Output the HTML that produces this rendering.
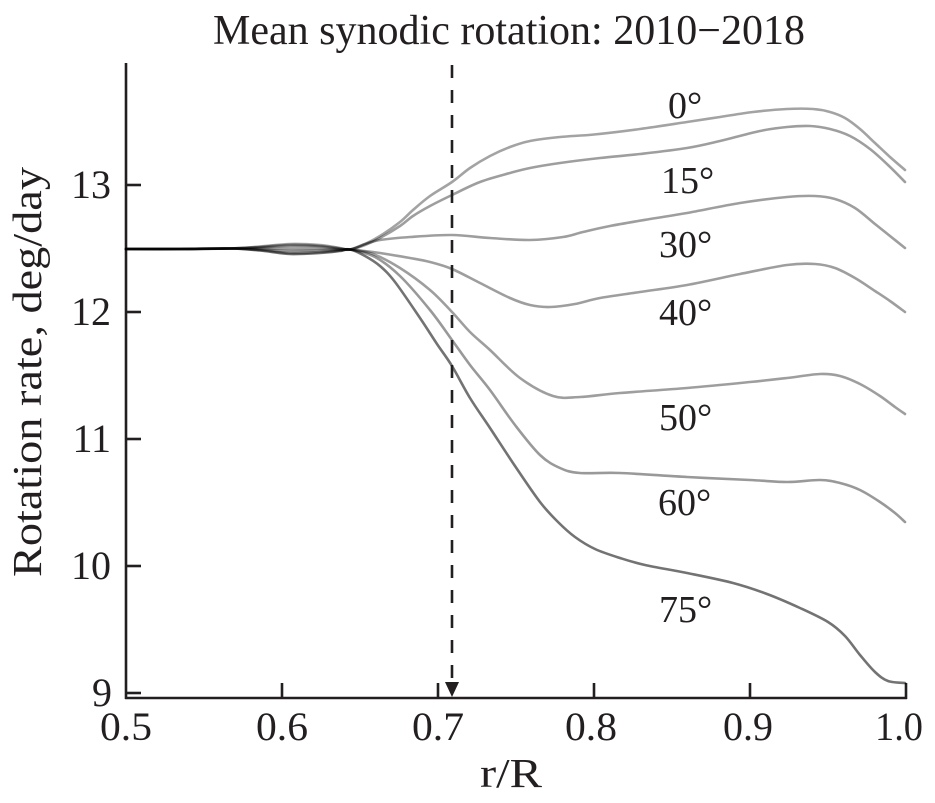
<!DOCTYPE html>
<html>
<head>
<meta charset="utf-8">
<style>
  html,body{margin:0;padding:0;background:#fff;}
  svg{display:block;}
  text{font-family:"Liberation Serif","DejaVu Serif",serif;fill:#231f20;}
</style>
</head>
<body>
<svg id="chart" width="935" height="803" viewBox="0 0 935 803" xmlns="http://www.w3.org/2000/svg">
  <rect x="0" y="0" width="935" height="803" fill="#fff"/>

  <!-- Title -->
  <text x="213" y="44" font-size="42" textLength="592" lengthAdjust="spacingAndGlyphs">Mean synodic rotation: 2010−2018</text>

  <!-- Y label -->
  <text transform="translate(41,577) rotate(-90)" x="0" y="0" font-size="41" textLength="410" lengthAdjust="spacingAndGlyphs">Rotation rate, deg/day</text>

  <!-- X label -->
  <text x="480" y="787" font-size="41" textLength="62" lengthAdjust="spacingAndGlyphs">r/R</text>

  <!-- Axes -->
  <g stroke="#231f20" stroke-width="2.6" fill="none">
    <line x1="126" y1="63" x2="126" y2="699"/>
    <line x1="125" y1="698" x2="907" y2="698"/>
    <line x1="126" y1="185" x2="141" y2="185"/>
    <line x1="126" y1="312" x2="141" y2="312"/>
    <line x1="126" y1="439" x2="141" y2="439"/>
    <line x1="126" y1="566" x2="141" y2="566"/>
    <line x1="126" y1="693" x2="141" y2="693"/>
    <line x1="282" y1="698" x2="282" y2="683"/>
    <line x1="438" y1="698" x2="438" y2="683"/>
    <line x1="594" y1="698" x2="594" y2="683"/>
    <line x1="750" y1="698" x2="750" y2="683"/>
    <line x1="906" y1="699" x2="906" y2="683"/>
  </g>

  <!-- Y tick labels -->
  <g font-size="40" text-anchor="end">
    <text x="111" y="198">13</text>
    <text x="111" y="325">12</text>
    <text x="111" y="452">11</text>
    <text x="111" y="579">10</text>
    <text x="112" y="706">9</text>
  </g>

  <!-- X tick labels -->
  <g font-size="40">
    <text x="100" y="740" textLength="52" lengthAdjust="spacingAndGlyphs">0.5</text>
    <text x="256" y="740" textLength="52" lengthAdjust="spacingAndGlyphs">0.6</text>
    <text x="412" y="740" textLength="52" lengthAdjust="spacingAndGlyphs">0.7</text>
    <text x="565" y="740" textLength="52" lengthAdjust="spacingAndGlyphs">0.8</text>
    <text x="723" y="740" textLength="50" lengthAdjust="spacingAndGlyphs">0.9</text>
    <text x="875" y="740" textLength="48" lengthAdjust="spacingAndGlyphs">1.0</text>
  </g>

  <!-- Curves -->
  <g id="curves" fill="none" stroke-width="2.6" stroke-linejoin="round" stroke-linecap="round">
    <polyline class="c" stroke="rgba(0,0,0,0.36)" points="126,249 180,249 230,248.5 260,246.5 290,244 320,245 340,248 350,249.5 365,244 380,236 400,222 413,210 430,196 452,182 470,168 490,156 510,147 530,141 560,137 594,134.5 640,129 687,122 720,117 753,112 787,109 813,109 830,112 845,118 860,129 875,143 890,157 905,170"/>
    <polyline class="c" stroke="rgba(0,0,0,0.38)" points="126,249 180,249 230,248.5 260,247 290,245 320,246 340,248.5 350,249.5 365,245 380,238 400,226 413,216 430,206 452,195 480,182 510,173 530,168 560,163 600,158 640,154 687,148 720,141 760,131 787,127 810,126 830,129 850,136 870,149 888,165 905,182"/>
    <polyline class="c" stroke="rgba(0,0,0,0.38)" points="126,249 180,249 230,248.5 260,247.5 290,246.5 320,247 340,249 350,249.5 365,244 380,240 410,237 452,235 490,238 530,240 563,237 583,232 610,226 650,219 687,213 740,203 787,197 815,196 835,199 855,208 875,224 890,236 905,248"/>
    <polyline class="c" stroke="rgba(0,0,0,0.38)" points="126,249 180,249 230,248.5 260,248.5 290,249 320,249 340,249.5 350,249.5 380,253 410,258 430,262 452,269 480,283 510,298 530,305 550,307 575,304 600,298 640,292 687,285 740,274 787,265 815,264 835,268 855,278 875,291 890,301 905,312"/>
    <polyline class="c" stroke="rgba(0,0,0,0.38)" points="126,249 180,249 230,248.5 260,249.5 290,251 320,250.5 340,250 350,249.5 373,254 400,268 430,290 452,312 470,332 490,350 520,378 553,396 580,397 620,393 687,388 750,382 787,378 820,374 840,376 860,384 880,396 895,407 905,414"/>
    <polyline class="c" stroke="rgba(0,0,0,0.4)" points="126,249 180,249 230,248.5 260,250 290,253 320,252 340,250.5 350,249.5 375,257 400,276 430,310 452,340 470,365 490,390 515,425 540,455 560,468 580,473 620,473 687,477 750,480 787,482 820,480 840,483 860,490 880,502 895,513 905,522"/>
    <polyline class="c" stroke="rgba(0,0,0,0.55)" points="126,249 180,249 230,248.5 260,250.5 290,254 320,253 340,251 350,249.5 365,256 380,266 395,282 420,318 437,344 452,366 470,398 490,428 515,466 540,502 558,522 575,537 595,549 620,558 645,565 687,573 733,583 767,594 800,608 828,622 845,636 860,655 875,672 888,681 905,683"/>
  </g>

  <!-- Dashed vertical line with arrow -->
  <line x1="452" y1="65" x2="452" y2="684" stroke="#231f20" stroke-width="2.6" stroke-dasharray="13,12"/>
  <polygon points="445,682 459,682 452,697" fill="#231f20"/>

  <!-- Latitude labels -->
  <g font-size="38">
    <text x="668" y="118">0°</text>
    <text x="661" y="193">15°</text>
    <text x="659" y="257">30°</text>
    <text x="659" y="325">40°</text>
    <text x="659" y="430">50°</text>
    <text x="658" y="515">60°</text>
    <text x="659" y="622">75°</text>
  </g>
</svg>
<script>
(function(){
  try{
    var NS="http://www.w3.org/2000/svg";
    var pls=document.querySelectorAll("polyline.c");
    for(var k=0;k<pls.length;k++){
      var pl=pls[k];
      var raw=pl.getAttribute("points").trim().split(/\s+/);
      var p=[];
      for(var i=0;i<raw.length;i++){var a=raw[i].split(",");p.push([parseFloat(a[0]),parseFloat(a[1])]);}
      var d="M"+p[0][0]+","+p[0][1];
      for(var i=0;i<p.length-1;i++){
        var p0=p[i-1]||p[i],p1=p[i],p2=p[i+1],p3=p[i+2]||p[i+1];
        var c1x=p1[0]+(p2[0]-p0[0])/6,c1y=p1[1]+(p2[1]-p0[1])/6;
        var c2x=p2[0]-(p3[0]-p1[0])/6,c2y=p2[1]-(p3[1]-p1[1])/6;
        d+=" C"+c1x.toFixed(2)+","+c1y.toFixed(2)+" "+c2x.toFixed(2)+","+c2y.toFixed(2)+" "+p2[0]+","+p2[1];
      }
      var path=document.createElementNS(NS,"path");
      path.setAttribute("d",d);
      path.setAttribute("stroke",pl.getAttribute("stroke"));
      pl.parentNode.replaceChild(path,pl);
    }
  }catch(e){}
})();
</script>
</body>
</html>
